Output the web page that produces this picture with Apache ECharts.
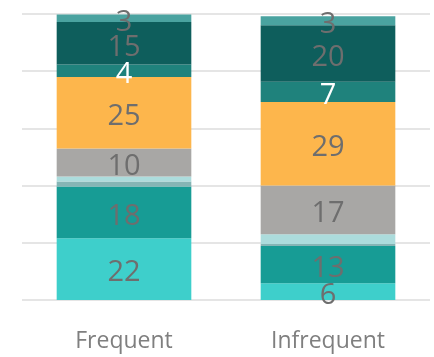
<!DOCTYPE html>
<html>
<head>
<meta charset="utf-8">
<script src="https://cdn.jsdelivr.net/npm/echarts@6/dist/echarts.min.js"></script>
<style>
html, body { margin: 0; padding: 0; background: #fff; }
#chart { width: 434px; height: 357px; }
</style>
</head>
<body>
<div id="chart"></div>
<script>
var categories = ['Frequent', 'Infrequent'];
// stacked from bottom to top
var seg1 = [21.6, 5.9];
var seg2 = [18.1, 13];
var seg3 = [1.7, 0.7];
var seg4 = [1.8, 3.4];
var seg5 = [9.8, 17];
var seg6 = [25, 29.2];
var seg7 = [4.3, 7.1];
var seg8 = [14.9, 19.8];
var seg9 = [2.6, 3.1];

var segData = [seg1, seg2, seg3, seg4, seg5, seg6, seg7, seg8, seg9];
var segColors = ['#3ecfcb', '#179c95', '#85b5b5', '#acdcdc', '#a8a7a5', '#fdb64c', '#1f827c', '#0e5e5c', '#4aa3a0'];
var labelColors = ['#6e6e6e', '#6e6e6e', null, null, '#6e6e6e', '#6e6e6e', '#ffffff', '#6e6e6e', '#6e6e6e'];

var myChart = echarts.init(document.getElementById('chart'));

var series = [];
for (var i = 0; i < segData.length; i++) {
	series.push({
		type : 'bar',
		stack : 'total',
		barWidth : '66%',
		data : segData[i],
		itemStyle : { color : segColors[i] },
		label : {
			show : labelColors[i] != null,
			position : 'inside',
			offset : [0, 4],
			color : labelColors[i] || '#6e6e6e',
			fontSize : 29,
			fontFamily : 'Open Sans',
			formatter : function (p) { return Math.round(p.value); }
		}
	});
}

var option = {
	animation : false,
	grid : { left : 22, right : 4, top : 14, bottom : 57 },
	xAxis : {
		type : 'category',
		data : categories,
		axisLine : { show : false },
		axisTick : { show : false },
		axisLabel : { color : '#7f7f7f', fontSize : 23, fontFamily : 'Open Sans', margin : 30 }
	},
	yAxis : {
		type : 'value',
		min : 0,
		max : 100,
		interval : 20,
		axisLabel : { show : false },
		axisLine : { show : false },
		axisTick : { show : false },
		splitLine : { lineStyle : { color : '#e5e5e5', width : 2 } }
	},
	series : series
};
myChart.setOption(option);
</script>
</body>
</html>
